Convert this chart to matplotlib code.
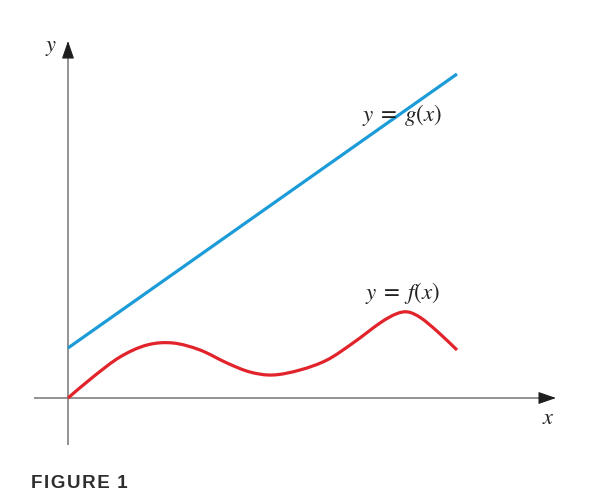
#!/usr/bin/env python3

import numpy as np
import matplotlib.pyplot as plt
from matplotlib.path import Path
from matplotlib.patches import PathPatch

# x runs right from the origin, y runs up; units ~ pixels of the drawing
g_x = [0, 389]
g_y = [50, 324]

f_x = [0, 25, 52, 79, 105, 132, 159, 182, 205, 232, 259, 285, 312, 328, 340, 353, 370, 389]
f_y = [0, 21, 41, 53, 55, 48, 35, 26, 23, 28, 38, 55, 75, 84, 86, 80, 66, 48]

g_label = r'$y\;=\;g(x)$'
f_label = r'$y\;=\;f(x)$'
caption = 'F\u200aI\u200aG\u200aU\u200aR\u200aE\u2009\u20091'

BLUE = '#1b9bd7'
RED = '#e1232b'
AXIS = '#757575'

plt.rcParams['mathtext.fontset'] = 'stix'


def smoothPath(xs, ys):
    # Catmull-Rom through the read-off points, drawn as cubic Bezier pieces
    pts = np.column_stack([xs, ys]).astype(float)
    verts = [pts[0]]
    codes = [Path.MOVETO]
    n = len(pts)
    for i in range(n - 1):
        p0 = pts[i - 1] if i > 0 else pts[i]
        p1 = pts[i]
        p2 = pts[i + 1]
        p3 = pts[i + 2] if i + 2 < n else pts[i + 1]
        c1 = p1 + (p2 - p0) / 6.0
        c2 = p2 - (p3 - p1) / 6.0
        verts += [c1, c2, p2]
        codes += [Path.CURVE4] * 3
    return Path(verts, codes)


fig = plt.figure(figsize=(5.89, 4.95), dpi=100)
ax = fig.add_axes([0, 0, 1, 1])
ax.set_xlim(-68, 521)
ax.set_ylim(-97, 398)
ax.axis('off')

# axes
ax.plot([-34, 476], [0, 0], color=AXIS, lw=1.1, solid_capstyle='butt', zorder=1)
ax.plot([0, 0], [-47, 346], color=AXIS, lw=1.1, solid_capstyle='butt', zorder=1)
head = dict(arrowstyle='-|>,head_length=1.1,head_width=0.38', color='#1e1e1e',
            lw=0.8, shrinkA=0, shrinkB=0, mutation_scale=10)
ax.annotate('', xy=(488, 0), xytext=(472, 0), arrowprops=head)
ax.annotate('', xy=(0, 357), xytext=(0, 341), arrowprops=head)

ax.text(-17, 350, r'$y$', fontsize=16, ha='center', va='center', color='#222222')
ax.text(480, -20, r'$x$', fontsize=16, ha='center', va='center', color='#222222')

# curves
ax.plot(g_x, g_y, color=BLUE, lw=2.3, solid_capstyle='butt', zorder=3)
ax.add_patch(PathPatch(smoothPath(f_x, f_y), facecolor='none', edgecolor=RED,
                       lw=2.3, capstyle='butt', zorder=3))

ax.text(334, 283, g_label, fontsize=16.5, ha='center', va='center', color='#222222')
ax.text(334, 105, f_label, fontsize=16.5, ha='center', va='center', color='#222222')

ax.text(-37, -86, caption, fontsize=13.5, fontweight='bold',
        ha='left', va='center', color='#2e2e2e', family=['Liberation Sans', 'DejaVu Sans'])

plt.savefig('out.png', dpi=100)
